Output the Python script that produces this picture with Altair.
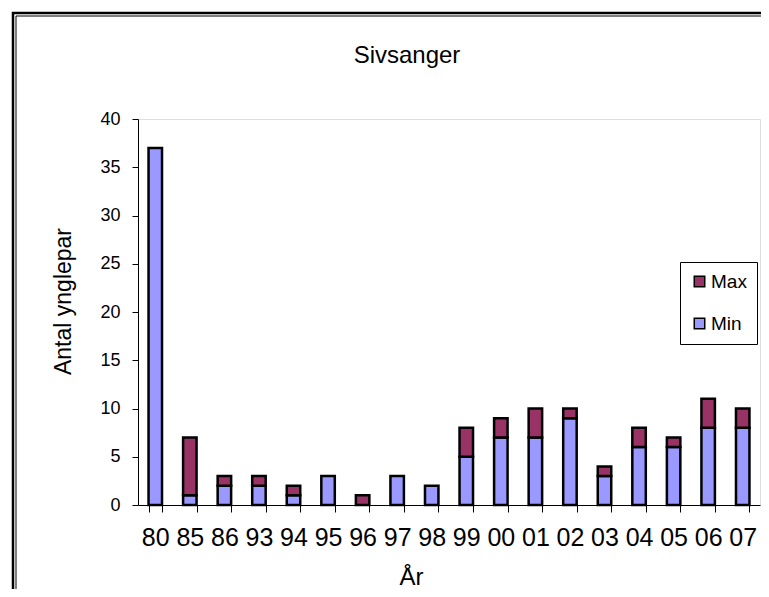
import altair as alt
import pandas as pd

years = ["80", "85", "86", "93", "94", "95", "96", "97", "98", "99",
         "00", "01", "02", "03", "04", "05", "06", "07"]
min_vals = [37, 1, 2, 2, 1, 3, 0, 3, 2, 5, 7, 7, 9, 3, 6, 6, 8, 8]
max_vals = [37, 7, 3, 3, 2, 3, 1, 3, 2, 8, 9, 10, 10, 4, 8, 7, 11, 10]
series = ["Max", "Min"]
colors = ["#993366", "#9999FF"]
y_ticks = [0, 5, 10, 15, 20, 25, 30, 35, 40]

rows = []
for yr, mn, mx in zip(years, min_vals, max_vals):
    rows.append({"year": yr, "series": "Min", "value": mn, "ord": 0})
    rows.append({"year": yr, "series": "Max", "value": mx - mn, "ord": 1})
df = pd.DataFrame(rows)
df = df[df["value"] > 0]

FONT = "Liberation Sans"

bars = alt.Chart(df).mark_bar(stroke="black", strokeWidth=2.5).encode(
    x=alt.X("year:N", sort=years,
            scale=alt.Scale(paddingInner=0.61, paddingOuter=0.305),
            axis=alt.Axis(title="År", labelAngle=0, labelFontSize=25,
                          labelFont=FONT, labelColor="black", labelPadding=13,
                          tickSize=7, tickColor="black", domainColor="black",
                          tickBand="extent", titleFont=FONT, titleFontSize=24,
                          titleFontWeight="normal", titleColor="black",
                          titleX=273, titleY=72, titleBaseline="middle",
                          titleAlign="center")),
    y=alt.Y("value:Q", stack="zero",
            scale=alt.Scale(domain=[0, 40], nice=False),
            axis=alt.Axis(title="Antal ynglepar", values=y_ticks, grid=False,
                          labelFontSize=18, labelFont=FONT, labelColor="black",
                          labelPadding=12, tickSize=6, tickColor="black",
                          domainColor="black", titleFont=FONT, titleFontSize=23,
                          titleFontWeight="normal", titleColor="black",
                          titleX=-75, titleY=182, titleAngle=-90,
                          titleBaseline="middle", titleAlign="center")),
    color=alt.Color("series:N",
                    scale=alt.Scale(domain=series, range=colors),
                    legend=alt.Legend(title=None, orient="none", legendX=542,
                                      legendY=143, strokeColor="black",
                                      padding=10, symbolType="square",
                                      symbolSize=110, symbolStrokeColor="black",
                                      symbolStrokeWidth=1.5,
                                      symbolOpacity=1,
                                      labelFontSize=19, labelFont=FONT,
                                      labelColor="black", rowPadding=22,
                                      labelOffset=2)),
    order=alt.Order("ord:Q", sort="ascending"),
)

frame_df = pd.DataFrame({"a": [0]})
frame_outer = alt.Chart(frame_df).mark_rect(filled=False, stroke="black",
                                            strokeWidth=2.5).encode(
    x=alt.value(-125), x2=alt.value(700), y=alt.value(-106), y2=alt.value(600))
frame_inner = alt.Chart(frame_df).mark_rect(filled=False, stroke="black",
                                            strokeWidth=1).encode(
    x=alt.value(-122), x2=alt.value(700), y=alt.value(-103), y2=alt.value(600))
title_text = alt.Chart(frame_df).mark_text(
    text="Sivsanger", font=FONT, fontSize=24, color="black",
    align="center", baseline="middle").encode(
    x=alt.value(269), y=alt.value(-63))

chart = alt.layer(frame_outer, frame_inner, title_text, bars).properties(
    width=622, height=386,
    autosize=alt.AutoSizeParams(type="none"),
    padding={"left": 130, "top": 111, "right": 1, "bottom": 84},
).configure_view(stroke=None).configure(background="white")

chart.save("out.html", embed_options={"renderer": "svg", "actions": False})
